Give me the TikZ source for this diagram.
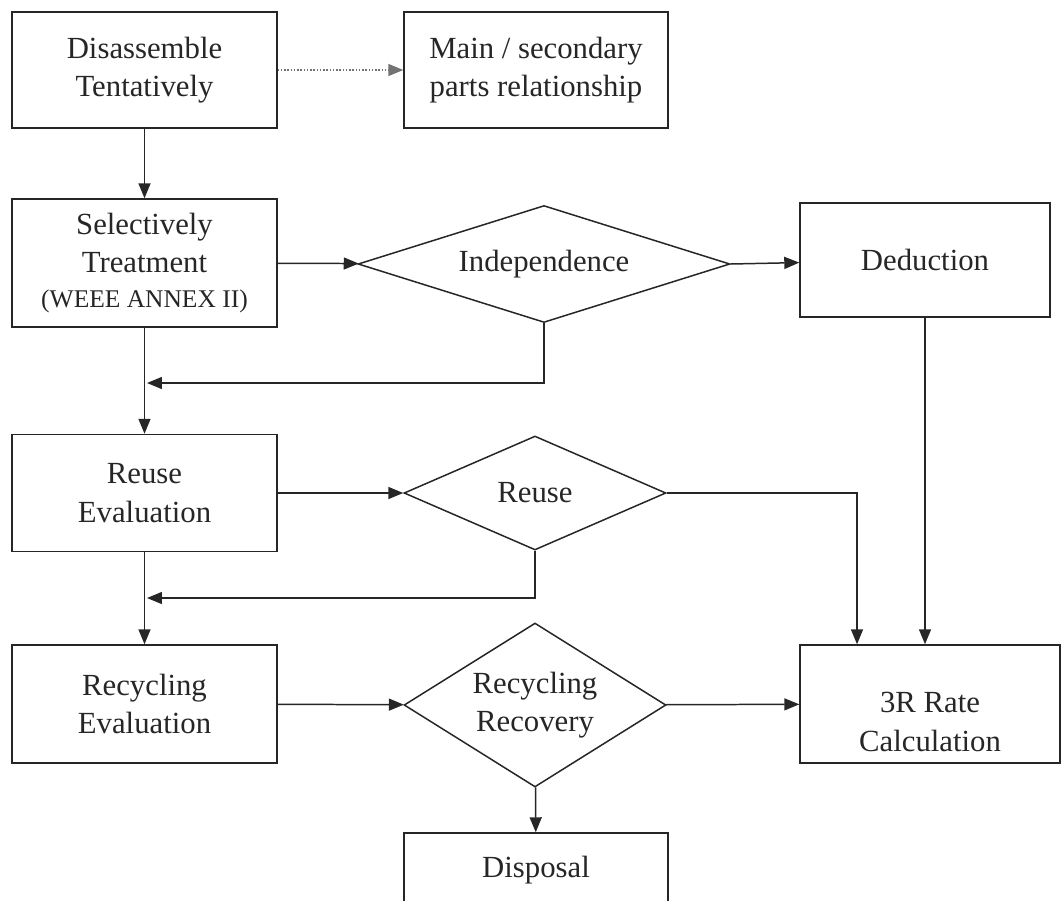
\documentclass[tikz,border=0pt]{standalone}
\usepackage{fontspec}
\setmainfont{Liberation Serif}
\usepackage{tikz}
\usetikzlibrary{shapes.geometric}
\usetikzlibrary{positioning, arrows.meta, shapes}
\newcommand{\bodyfont}{\fontsize{17.5}{22}\selectfont}
\newcommand{\smallfont}{\fontsize{14.5}{18}\selectfont}
\begin{document}
\begin{tikzpicture}[x=0.02cm, y=-0.02cm, line width=0.85pt,
    box/.style={draw=black!85, rectangle, align=center, minimum width=5.3cm, minimum height=2.32cm, font=\bodyfont, text=black!85},
    decision/.style={draw=black!85, diamond, align=center, inner sep=0pt, font=\bodyfont, text=black!85},
    line/.style={draw=black!85, -{Triangle[length=0.3cm, width=0.24cm]}}]
    \clip (0,0) rectangle (1061,900);

    % Left column
    \node[box] (dis) at (144.5,70) {Disassemble\\Tentatively};
    \node[box, minimum height=2.56cm] (sel) at (144.5,263) {Selectively\\Treatment\\[-2pt]{\smallfont (WEEE ANNEX II)}};
    \node[box, minimum height=2.34cm] (rev) at (144.5,493) {Reuse\\Evaluation};
    \node[box, minimum height=2.36cm] (rcy) at (144.5,704) {Recycling\\Evaluation};

    % Middle column
    \node[box, minimum width=5.28cm] (rel) at (536,70) {Main / secondary\\parts relationship};
    \node[decision, aspect=3.18, minimum width=7.44cm, minimum height=2.34cm] (ind) at (544,264) {Independence};
    \node[decision, aspect=2.3, minimum width=5.24cm, minimum height=2.28cm] (reu) at (535,493) {Reuse};
    \node[decision, aspect=1.6, minimum width=5.24cm, minimum height=3.28cm] (rrc) at (535,705) {Recycling\\Recovery};
    \node[box, minimum width=5.28cm, minimum height=1.48cm] (disp) at (536,870) {Disposal};

    % Right column
    \node[box, minimum width=5cm, minimum height=2.28cm] (ded) at (925,260) {Deduction};
    \node[box, minimum width=5.2cm, minimum height=2.36cm,
        label={[align=center, font=\bodyfont, text=black!85, yshift=-0.36cm]center:3R Rate\\Calculation}] (rate) at (930,704) {};

    % Feedback points
    \coordinate (fb1) at (147,383);
    \coordinate (fb2) at (147,598);

    % Relationships
    \draw[line, densely dotted, draw=black!55] (dis) -- (rel);
    \draw[line] (dis) -- (sel);
    \draw[line] (sel) -- (ind);
    \draw[line] (ind.east) -- (ded);
    \draw[line] (sel) -- (rev);
    \draw[line] (ind.south) |- (fb1);
    \draw[line] (rev) -- (reu);
    \draw[line] (reu.east) -| ([xshift=-1.46cm]rate.north);
    \draw[line] (ded.south) -- (ded.south |- rate.north);
    \draw[line] (rev) -- (rcy);
    \draw[line] (reu.south) |- (fb2);
    \draw[line] (rcy) -- (rrc);
    \draw[line] (rrc) -- (rate);
    \draw[line] (rrc) -- (disp);
\end{tikzpicture}
\end{document}
